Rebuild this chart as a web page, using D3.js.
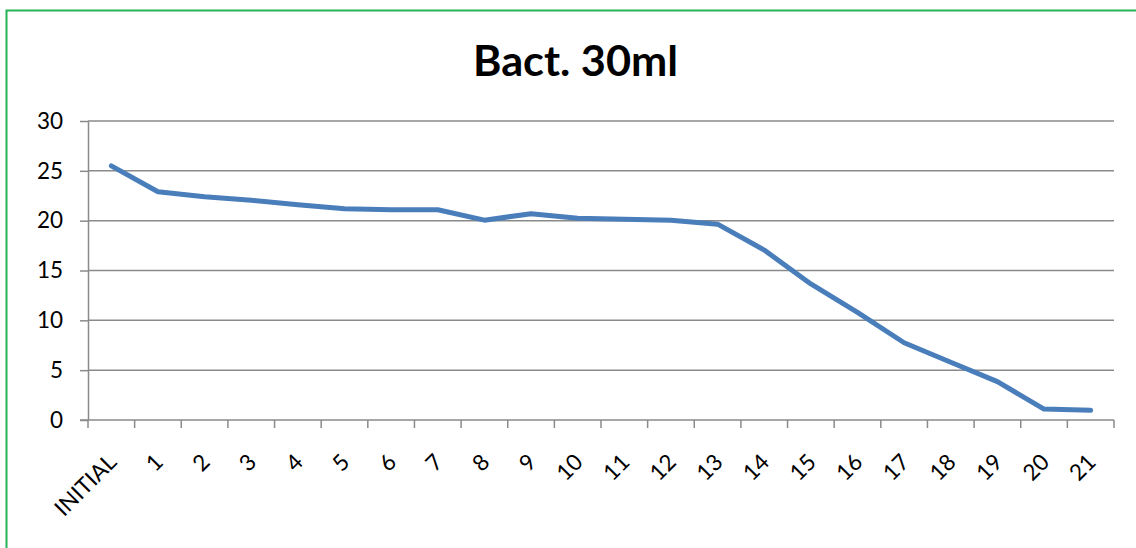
<!DOCTYPE html>
<html>
<head>
<meta charset="utf-8">
<script src="https://cdn.jsdelivr.net/npm/d3@7"></script>
<style>
  html, body { margin: 0; padding: 0; background: #fff; }
  svg { display: block; }
  text { font-family: Lato, "Open Sans", "DejaVu Sans", sans-serif; fill: #000; }
</style>
</head>
<body>
<svg id="chart" width="1136" height="548"></svg>
<script>
// Bacterial count per day, 30 ml dose
const categories = ["INITIAL", "1", "2", "3", "4", "5", "6", "7", "8", "9", "10",
  "11", "12", "13", "14", "15", "16", "17", "18", "19", "20", "21"];
const values = [25.5, 22.9, 22.4, 22.05, 21.6, 21.2, 21.1, 21.1, 20.05, 20.7, 20.25,
  20.15, 20.05, 19.65, 17.05, 13.65, 10.8, 7.75, 5.8, 3.85, 1.1, 0.97];
const yTicks = [0, 5, 10, 15, 20, 25, 30];
const title = "Bact. 30ml";

const svg = d3.select("#chart");
const W = 1136, H = 548;

// Frame around the chart area
svg.append("path")
  .attr("d", `M6.5,${H + 5} L6.5,10.5 L${W + 5},10.5`)
  .attr("fill", "none")
  .attr("stroke", "#25b355")
  .attr("stroke-width", 2);

const plot = { left: 88, right: 1114, top: 121, bottom: 420 };

const x = d3.scaleBand().domain(categories).range([plot.left, plot.right]);
const y = d3.scaleLinear().domain([0, 30]).range([plot.bottom, plot.top]);

// Title
svg.append("text")
  .attr("x", 575.5)
  .attr("y", 75.5)
  .attr("text-anchor", "middle")
  .attr("font-size", 42)
  .attr("font-weight", "bold")
  .attr("textLength", 205)
  .attr("lengthAdjust", "spacingAndGlyphs")
  .text(title);

// Horizontal gridlines
svg.append("g")
  .selectAll("line")
  .data(yTicks.filter(d => d > 0))
  .join("line")
  .attr("x1", plot.left).attr("x2", plot.right)
  .attr("y1", d => y(d)).attr("y2", d => y(d))
  .attr("stroke", "#8a8a8a")
  .attr("stroke-width", 1.5);

// Y axis
const yAxis = svg.append("g")
  .attr("transform", `translate(${plot.left},0)`)
  .call(d3.axisLeft(y).tickValues(yTicks).tickSize(8).tickPadding(17).tickSizeOuter(0));
yAxis.select(".domain").attr("stroke", "#8a8a8a").attr("stroke-width", 1.5);
yAxis.selectAll(".tick line").attr("stroke", "#8a8a8a").attr("stroke-width", 1.5);
yAxis.selectAll(".tick text")
  .attr("font-size", 22.5)
  .attr("font-family", "Lato, 'Open Sans', sans-serif")
  .attr("fill", "#000");

// X axis with boundary ticks between categories
const xAxis = svg.append("g")
  .attr("transform", `translate(0,${plot.bottom})`);
xAxis.append("line")
  .attr("x1", plot.left - 8).attr("x2", plot.right)
  .attr("stroke", "#8a8a8a").attr("stroke-width", 1.5);
const bounds = categories.map(c => x(c)).concat([x(categories[categories.length - 1]) + x.bandwidth()]);
xAxis.selectAll("line.tk")
  .data(bounds)
  .join("line")
  .attr("class", "tk")
  .attr("x1", d => d).attr("x2", d => d)
  .attr("y1", 0).attr("y2", 8)
  .attr("stroke", "#8a8a8a").attr("stroke-width", 1.5);
xAxis.selectAll("text")
  .data(categories)
  .join("text")
  .attr("transform", d => `translate(${x(d) + x.bandwidth() / 2 + 1},${38}) rotate(-45)`)
  .attr("text-anchor", "end")
  .attr("dy", "0.35em")
  .attr("font-size", 22.5)
  .text(d => d);

// Data line
const line = d3.line()
  .x((d, i) => x(categories[i]) + x.bandwidth() / 2)
  .y(d => y(d));

svg.append("path")
  .datum(values)
  .attr("d", line)
  .attr("fill", "none")
  .attr("stroke", "#4a7ebb")
  .attr("stroke-width", 5)
  .attr("stroke-linejoin", "round")
  .attr("stroke-linecap", "round");
</script>
</body>
</html>
